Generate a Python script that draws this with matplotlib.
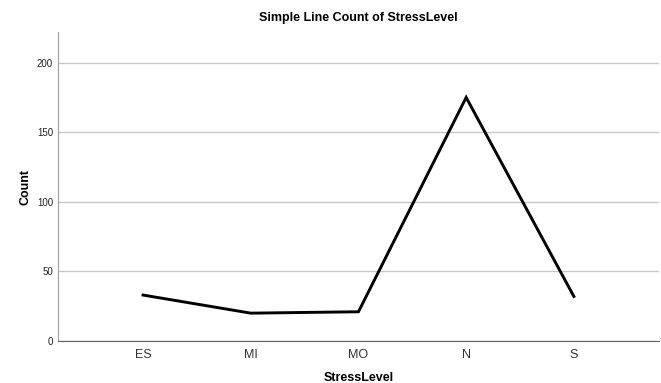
import matplotlib
matplotlib.use("Agg")
import matplotlib.pyplot as plt

plt.rcParams['font.family'] = ['Liberation Sans', 'DejaVu Sans']

# data
levels = ["ES", "MI", "MO", "N", "S"]
counts = [33, 20, 21, 175, 32]

fig = plt.figure(figsize=(6.61, 3.83), dpi=100)
ax = fig.add_axes([0.0877, 0.1097, 0.9092, 0.8067])

xs = list(range(len(levels)))
ax.plot(xs, counts, color="black", linewidth=2.1, solid_joinstyle="miter")

ax.set_xlim(-0.79, len(levels) - 1 + 0.79)
ax.set_ylim(0, 222)
ax.set_yticks([0, 50, 100, 150, 200])
ax.set_xticks(xs)
ax.set_xticklabels(levels)

ax.grid(axis="y", color="#c8c8c8", linewidth=1)
ax.set_axisbelow(True)

for side in ["top", "right"]:
    ax.spines[side].set_visible(False)
ax.spines["left"].set_color("#a0a0a0")
ax.spines["bottom"].set_color("#606060")

ax.tick_params(axis="y", length=0, labelsize=7, pad=3.5, labelcolor="#202020")
ax.tick_params(axis="x", length=0, labelsize=9, pad=6, labelcolor="#333333")

ax.set_title("Simple Line Count of StressLevel", fontsize=9, fontweight="bold", pad=8)
ax.set_xlabel("StressLevel", fontsize=9, fontweight="bold", labelpad=8)
ax.set_ylabel("Count", fontsize=9, fontweight="bold", labelpad=4)

fig.savefig("out.png", dpi=100)
